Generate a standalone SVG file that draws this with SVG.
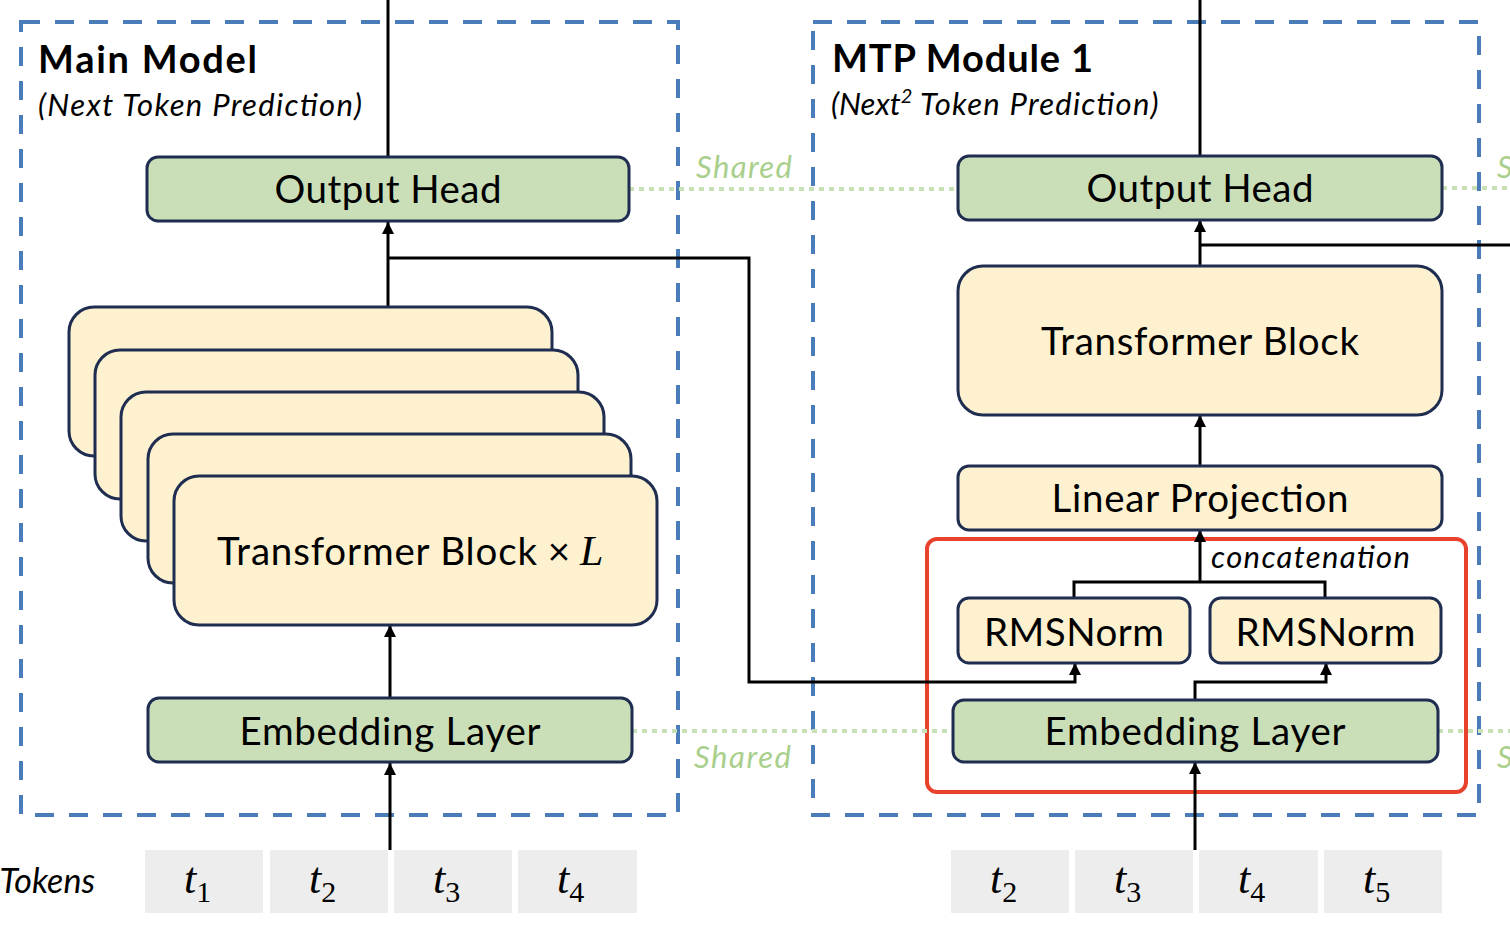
<svg xmlns="http://www.w3.org/2000/svg" width="1510" height="948" viewBox="0 0 1510 948">
<style>
.bg{fill:#ffffff}
.grp{fill:none;stroke:#4a7cb9;stroke-width:4;stroke-dasharray:19 15}
.red{fill:none;stroke:#e8412c;stroke-width:4}
.shared{fill:none;stroke:#c8e0b6;stroke-width:4;stroke-dasharray:5 5}
.green{fill:#cadfb8;stroke:#1f2d50;stroke-width:3}
.yellow{fill:#fdf1cf;stroke:#1f2d50;stroke-width:3}
.tok{fill:#ededed}
.conn{fill:none;stroke:#000;stroke-width:3}
.lbl{font-family:Lato,"Liberation Sans",sans-serif;font-size:38.5px;fill:#000;text-anchor:middle}
.title{font-family:Lato,"Liberation Sans",sans-serif;font-size:38px;font-weight:bold;fill:#000}
.sub{font-family:Lato,"Liberation Sans",sans-serif;font-size:31px;font-style:italic;fill:#000}
.sh{font-family:Lato,"Liberation Sans",sans-serif;font-size:31px;font-style:italic;fill:#a9cf8c}
.math{font-family:"Liberation Serif",serif;font-style:italic;font-size:44px;fill:#000}
.msub{font-family:"Liberation Serif",serif;font-style:normal;font-size:30px}
</style>
<defs>
<marker id="arr" markerUnits="userSpaceOnUse" markerWidth="12" markerHeight="12" refX="12" refY="6" orient="auto">
<path d="M0,0 L12,6 L0,12 z" fill="#000"/>
</marker>
</defs>
<rect class="bg" x="0" y="0" width="1510" height="948"/>

<g id="main-model-group">
<rect class="grp" x="21" y="22" width="657" height="793"/>
<text class="title" x="38" y="73" textLength="219">Main Model</text>
<text class="sub" x="38" y="116" textLength="324">(Next Token Prediction)</text>
</g>
<g id="mtp-module-group">
<rect class="grp" x="813" y="22" width="666" height="793"/>
<text class="title" x="832" y="72" textLength="261">MTP Module 1</text>
<text class="sub" x="831" y="115">(Next<tspan font-size="20" dy="-12">2</tspan><tspan dy="12" textLength="246"> Token Prediction)</tspan></text>
</g>
<g id="mtp-input-highlight">
<rect class="red" x="927" y="539" width="539" height="253" rx="10"/>
</g>

<g id="shared-links">
<path class="shared" d="M629,189 H959"/>
<path class="shared" d="M1442,188 H1510"/>
<path class="shared" d="M632,731 H953"/>
<path class="shared" d="M1438,731 H1510"/>
<text class="sh" x="696" y="178" textLength="96">Shared</text>
<text class="sh" x="694" y="768" textLength="97">Shared</text>
<text class="sh" x="1497" y="178">Shared</text>
<text class="sh" x="1497" y="768">Shared</text>
</g>

<g id="connectors">
<path class="conn" d="M388,0 V157"/>
<path class="conn" d="M388,307 V222" marker-end="url(#arr)"/>
<path class="conn" d="M388,258 H749 V682 H1075 V663" marker-end="url(#arr)"/>
<path class="conn" d="M390,698 V625" marker-end="url(#arr)"/>
<path class="conn" d="M390,850 V763" marker-end="url(#arr)"/>
<path class="conn" d="M1200,0 V156"/>
<path class="conn" d="M1200,266 V220" marker-end="url(#arr)"/>
<path class="conn" d="M1200,245 H1510"/>
<path class="conn" d="M1200,466 V415" marker-end="url(#arr)"/>
<path class="conn" d="M1200,582 V530" marker-end="url(#arr)"/>
<path class="conn" d="M1074,598 V582 H1325 V598"/>
<path class="conn" d="M1195,700 V682 H1326 V663" marker-end="url(#arr)"/>
<path class="conn" d="M1195,850 V762" marker-end="url(#arr)"/>
<text class="sub" x="1211" y="568" textLength="199">concatenation</text>
</g>

<g id="main-output-head">
<rect class="green" x="147" y="157" width="482" height="64" rx="11"/>
<text class="lbl" x="388" y="203" textLength="227">Output Head</text>
</g>
<g id="main-transformer-stack">
<rect class="yellow" x="69" y="307" width="483" height="149" rx="25"/>
<rect class="yellow" x="95" y="350" width="483" height="149" rx="25"/>
<rect class="yellow" x="121" y="392" width="483" height="149" rx="25"/>
<rect class="yellow" x="148" y="434" width="483" height="149" rx="25"/>
<rect class="yellow" x="174" y="476" width="483" height="149" rx="25"/>
<text class="lbl" x="217" y="565" style="text-anchor:start"><tspan textLength="320">Transformer Block</tspan> × <tspan font-family="'Liberation Serif',serif" font-style="italic" font-size="42">L</tspan></text>
</g>
<g id="main-embedding">
<rect class="green" x="148" y="698" width="484" height="64" rx="11"/>
<text class="lbl" x="390" y="745" textLength="301">Embedding Layer</text>
</g>

<g id="mtp-output-head">
<rect class="green" x="958" y="156" width="484" height="64" rx="11"/>
<text class="lbl" x="1200" y="202" textLength="227">Output Head</text>
</g>
<g id="mtp-transformer-block">
<rect class="yellow" x="958" y="266" width="484" height="149" rx="25"/>
<text class="lbl" x="1200" y="355" textLength="318">Transformer Block</text>
</g>
<g id="mtp-linear-projection">
<rect class="yellow" x="958" y="466" width="484" height="64" rx="11"/>
<text class="lbl" x="1200" y="512" textLength="297">Linear Projection</text>
</g>
<g id="mtp-rmsnorm-1">
<rect class="yellow" x="958" y="598" width="232" height="65" rx="11"/>
<text class="lbl" x="1074" y="646" textLength="180">RMSNorm</text>
</g>
<g id="mtp-rmsnorm-2">
<rect class="yellow" x="1210" y="598" width="231" height="65" rx="11"/>
<text class="lbl" x="1325.5" y="646" textLength="180">RMSNorm</text>
</g>
<g id="mtp-embedding">
<rect class="green" x="953" y="700" width="485" height="62" rx="11"/>
<text class="lbl" x="1195" y="745" textLength="301">Embedding Layer</text>
</g>

<g id="main-tokens">
<text class="sub" x="95" y="893" style="text-anchor:end;font-size:34px">Tokens</text>
<rect class="tok" x="145" y="850" width="118" height="63"/>
<rect class="tok" x="270" y="850" width="118" height="63"/>
<rect class="tok" x="394" y="850" width="118" height="63"/>
<rect class="tok" x="518" y="850" width="119" height="63"/>
<text class="math" x="184" y="893">t<tspan class="msub" dy="9">1</tspan></text>
<text class="math" x="309" y="893">t<tspan class="msub" dy="9">2</tspan></text>
<text class="math" x="433" y="893">t<tspan class="msub" dy="9">3</tspan></text>
<text class="math" x="557" y="893">t<tspan class="msub" dy="9">4</tspan></text>
</g>
<g id="mtp-tokens">
<rect class="tok" x="951" y="850" width="118" height="63"/>
<rect class="tok" x="1075" y="850" width="118" height="63"/>
<rect class="tok" x="1199" y="850" width="119" height="63"/>
<rect class="tok" x="1324" y="850" width="118" height="63"/>
<text class="math" x="990" y="893">t<tspan class="msub" dy="9">2</tspan></text>
<text class="math" x="1114" y="893">t<tspan class="msub" dy="9">3</tspan></text>
<text class="math" x="1238" y="893">t<tspan class="msub" dy="9">4</tspan></text>
<text class="math" x="1363" y="893">t<tspan class="msub" dy="9">5</tspan></text>
</g>
</svg>
